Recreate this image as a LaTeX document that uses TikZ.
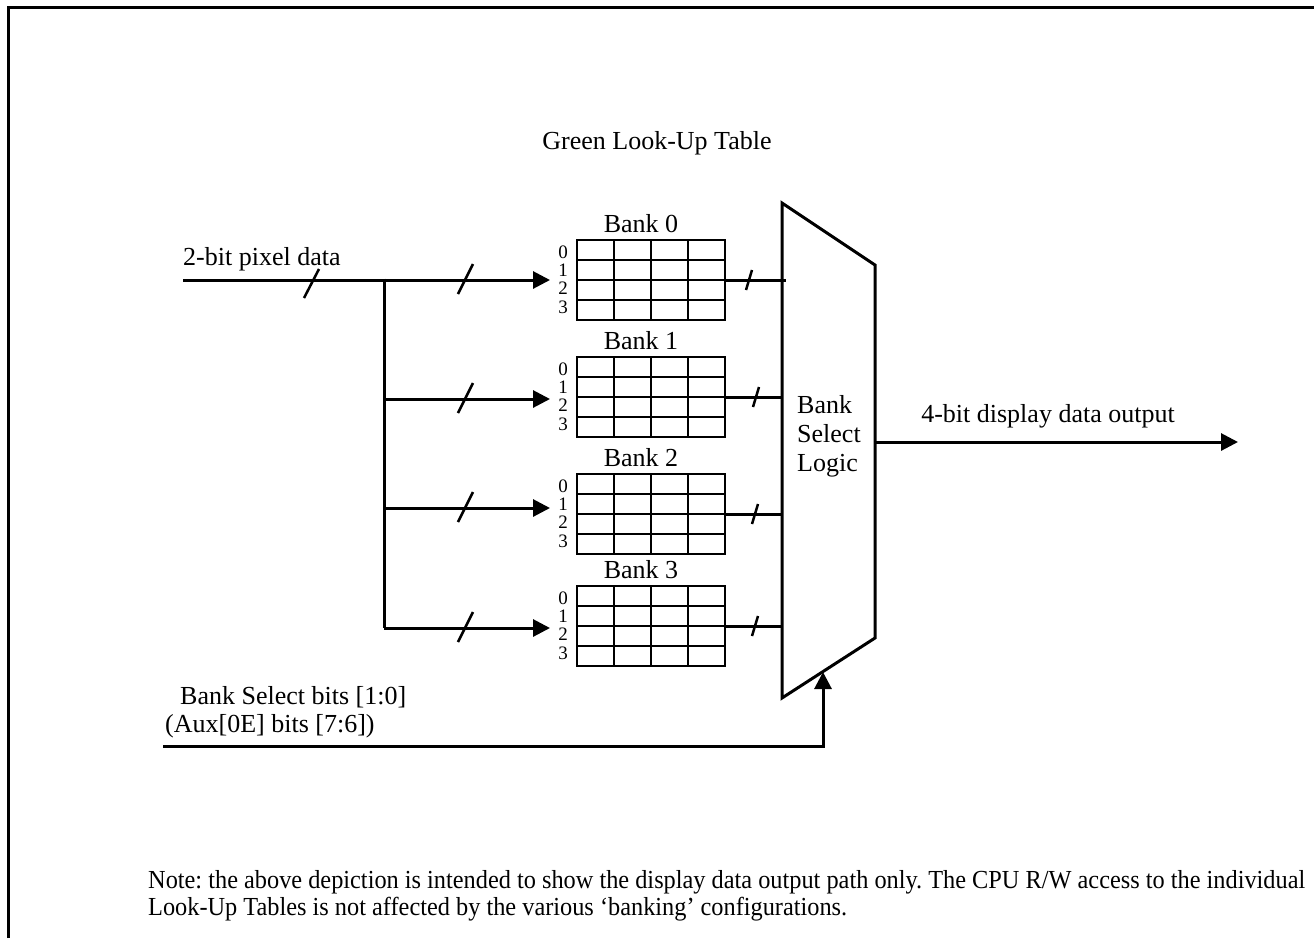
\documentclass[tikz,border=0pt]{standalone}
\usepackage{fontspec}
\setmainfont{Liberation Serif}
\usetikzlibrary{arrows.meta}
\newsavebox{\noteboxa}
\newsavebox{\noteboxb}
\begin{document}
\frenchspacing
\sbox{\noteboxa}{\fontsize{26}{30}\selectfont Note: the above depiction is intended to show the display data output path only. The CPU R/W access to the individual}%
\sbox{\noteboxb}{\fontsize{26}{30}\selectfont Look-Up Tables is not affected by the various `banking' configurations.}%
\begin{tikzpicture}[x=1pt,y=-1pt,
  wire/.style={line width=3pt},
  arr/.style={line width=3pt,-{Triangle[length=17pt,width=17pt]}},
  slash/.style={line width=2.5pt},
  gridline/.style={line width=2.5pt},
  lbl/.style={font=\fontsize{26}{30}\selectfont, inner sep=0pt},
  rowlbl/.style={font=\fontsize{19}{19}\selectfont, inner sep=0pt, anchor=base},
  bankbox/.style={draw, line width=2.5pt, minimum width=148pt, minimum height=80pt, inner sep=0pt, outer sep=0pt, anchor=north west},
]
\useasboundingbox (0,0) rectangle (1314,938);
\fill[white] (0,0) rectangle (1314,938);
% frame
\draw[line width=3pt] (8,938) -- (8,7) -- (1314,7);
% title
\node[lbl, anchor=base] (title) at (657,149) {Green Look-Up Table};
% banks
\foreach \i/\t/\ox in {0/240/749,1/357/756,2/474/755,3/586/755} {
  \node[bankbox] (bank\i) at (577,\t) {};
  \foreach \c in {1,2,3} \draw[gridline] (577+37*\c,\t) -- (577+37*\c,\t+80);
  \foreach \r in {1,2,3} \draw[gridline] (577,\t+20*\r) -- (725,\t+20*\r);
  \node[lbl, anchor=base] (blbl\i) at (641,\t-8) {Bank \i};
  \foreach \r in {0,1,2,3} \node[rowlbl] (row\i\r) at (563,\t+18+18.4*\r) {\r};
  \coordinate (out\i) at (725,\t+40);
  \coordinate (oslash\i) at (\ox,\t+40);
}
% mux
\coordinate (m1) at (782,203);
\coordinate (m2) at (875,265);
\coordinate (m3) at (875,638);
\coordinate (m4) at (782,698);
\draw[line width=3pt, line join=miter] (m1) -- (m2) -- (m3) -- (m4) -- cycle;
\node[lbl, anchor=base west] (mb) at (797,413) {Bank};
\node[lbl, anchor=base west] (ms) at (797,442) {Select};
\node[lbl, anchor=base west] (ml) at (797,471) {Logic};
% bank outputs to mux
\coordinate (min0) at (786,280);
\coordinate (min1) at (782,397);
\coordinate (min2) at (782,514);
\coordinate (min3) at (782,626);
\foreach \i in {0,1,2,3} {
  \draw[wire] (out\i) -- (min\i);
  \draw[slash] ([xshift=3pt,yshift=10pt]oslash\i) -- ([xshift=-3pt,yshift=-10pt]oslash\i);
}
% input bus
\coordinate (in) at (183,280);
\coordinate (bustop) at (384,280);
\coordinate (busbot) at (384,628);
\node[lbl, anchor=base west] (inlbl) at (183,265) {2-bit pixel data};
\draw[wire] (in) -- (bustop);
\draw[wire] ([yshift=1.5pt]bustop) -- (busbot);
\draw[slash] (319,269) -- (304,298);
\foreach \i/\y in {0/280,1/399,2/508,3/628} {
  \coordinate (bi\i) at (384,\y);
  \coordinate (ai\i) at (550,\y);
  \draw[arr] (bi\i) -- (ai\i);
  \draw[slash] (473,\y-16) -- (458,\y+14);
}
% output
\coordinate (mout) at (875,442);
\coordinate (outend) at (1238,442);
\draw[arr] (mout) -- (outend);
\node[lbl, anchor=base] (outlbl) at (1048,422) {4-bit display data output};
% bank select
\node[lbl, anchor=base west] (bs1) at (180,704) {Bank Select bits [1:0]};
\node[lbl, anchor=base west] (bs2) at (165,732) {(Aux[0E] bits [7:6])};
\coordinate (bsin) at (163,746);
\coordinate (bscorner) at (823,746);
\coordinate (bstip) at (823,672);
\draw[arr, line join=miter] (bsin) -- (bscorner) -- (bstip);
% note
\pgfmathsetmacro{\notesx}{1157/\the\wd\noteboxa}
\node[inner sep=0pt, anchor=base west] (note1) at (148,888) {\scalebox{\notesx}[1]{\usebox{\noteboxa}}};
\node[inner sep=0pt, anchor=base west] (note2) at (148,915) {\scalebox{\notesx}[1]{\usebox{\noteboxb}}};
\end{tikzpicture}
\end{document}
